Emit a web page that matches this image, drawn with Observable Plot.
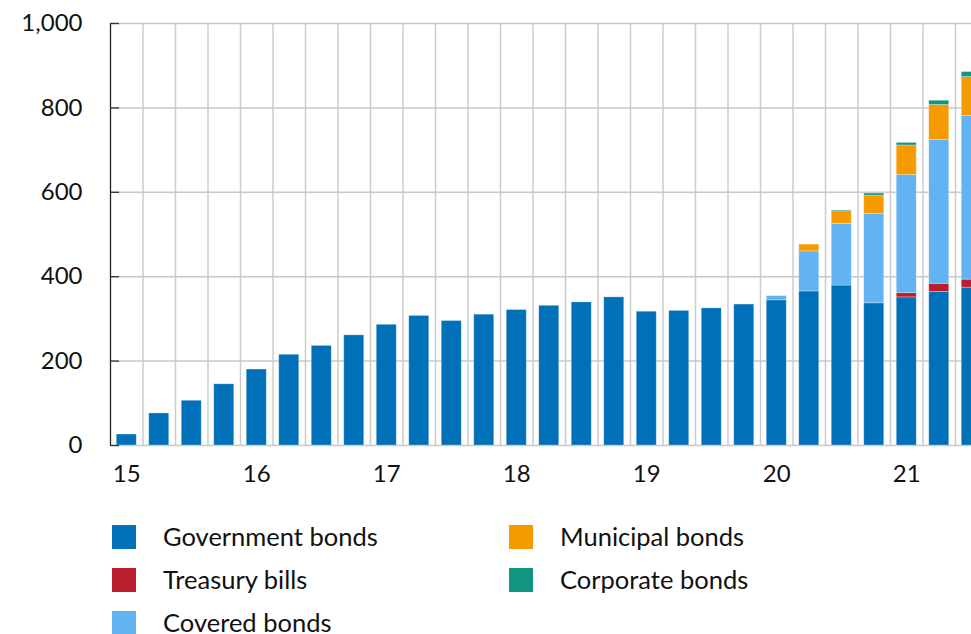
<!DOCTYPE html>
<html>
<head>
<meta charset="utf-8">
<script src="https://cdn.jsdelivr.net/npm/d3@7"></script>
<script src="https://cdn.jsdelivr.net/npm/@observablehq/plot@0.6"></script>
<style>
  html, body { margin: 0; padding: 0; background: #fff; overflow: hidden; }
  #wrap { position: relative; width: 971px; height: 634px; overflow: hidden; font-family: Lato, "Open Sans", sans-serif; color: #111; }
  #chart { position: absolute; left: 0; top: 0; width: 990px; }
  #chart svg { max-width: none !important; }
  #legend { position: absolute; left: 112px; top: 525px; display: grid; grid-template-columns: 397px auto; grid-auto-flow: column; grid-template-rows: repeat(3, 43px); font-size: 25.5px; }
  .item { display: flex; align-items: flex-start; height: 43px; }
  .sw { width: 24px; height: 24px; margin-right: 27px; flex: none; }
  .lab { line-height: 23px; white-space: nowrap; }
</style>
</head>
<body>
<div id="wrap">
  <div id="chart"></div>
  <div id="legend"></div>
</div>
<script>
// Quarters shown (the last one is cut off at the right edge)
const quarters = [
  "2015Q1","2015Q2","2015Q3","2015Q4",
  "2016Q1","2016Q2","2016Q3","2016Q4",
  "2017Q1","2017Q2","2017Q3","2017Q4",
  "2018Q1","2018Q2","2018Q3","2018Q4",
  "2019Q1","2019Q2","2019Q3","2019Q4",
  "2020Q1","2020Q2","2020Q3","2020Q4",
  "2021Q1","2021Q2","2021Q3"
];
const government = [26,76,106,145,180,215,236,261,286,307,295,310,321,331,339,351,317,319,325,334,344,365,379,337,351,364,374];
const treasury   = [0,0,0,0,0,0,0,0,0,0,0,0,0,0,0,0,0,0,0,0,0,0,0,0,10,19,19];
const covered    = [0,0,0,0,0,0,0,0,0,0,0,0,0,0,0,0,0,0,0,0,10,95,146,212,280,341,388];
const municipal  = [0,0,0,0,0,0,0,0,0,0,0,0,0,0,0,0,0,0,0,0,0,16,30,43,70,83,92];
const corporate  = [0,0,0,0,0,0,0,0,0,0,0,0,0,0,0,0,0,0,0,0,0,0,2,5,6,10,12];

const seriesNames = ["Government bonds","Treasury bills","Covered bonds","Municipal bonds","Corporate bonds"];
const seriesColors = ["#0070b8","#ba1e2d","#61b3f2","#f59b00","#10957f"];
const seriesValues = [government, treasury, covered, municipal, corporate];
const yearLabels = {"2015":"15","2016":"16","2017":"17","2018":"18","2019":"19","2020":"20","2021":"21"};
const yTicks = [0,200,400,600,800,1000];

const rows = [];
seriesNames.forEach((name, s) => {
  quarters.forEach((q, i) => {
    rows.push({quarter: q, i0: i, i1: i + 1, series: name, value: seriesValues[s][i]});
  });
});
const q1 = quarters.map((q, i) => ({q, i})).filter(d => d.q.endsWith("Q1"))
  .map(d => ({pos: d.i + 0.5, label: yearLabels[d.q.slice(0, 4)]}));
const bounds = quarters.map((q, i) => i + 1);

const font = "Lato, 'Open Sans', sans-serif";
const chart = Plot.plot({
  width: 990,
  height: 500,
  marginLeft: 110,
  marginRight: 2.5,
  marginTop: 23,
  marginBottom: 55,
  style: {fontFamily: font, fontSize: "24px", color: "#111", background: "transparent", overflow: "visible", maxWidth: "none"},
  x: {type: "linear", domain: [0, quarters.length], axis: null},
  y: {domain: [0, 1000], axis: null},
  color: {domain: seriesNames, range: seriesColors},
  marks: [
    Plot.ruleX(bounds, {x: d => d, y1: 0, y2: 1000, stroke: "#cccccc", strokeWidth: 1.5}),
    Plot.ruleY(yTicks, {y: d => d, stroke: "#c8c8c8", strokeWidth: 1.5}),
    Plot.rectY(rows, {x1: "i0", x2: "i1", y: "value", fill: "series", order: seriesNames,
      insetLeft: 6.25, insetRight: 6.25, stroke: "white", strokeOpacity: 0.35, strokeWidth: 0.8}),
    Plot.ruleX([0], {y1: 0, y2: 1000, stroke: "#222", strokeWidth: 1.3}),
    Plot.axisY({ticks: yTicks, label: null, tickSize: -9, tickPadding: 37, tickFormat: d3.format(","), stroke: "#333", strokeWidth: 1.3, fontSize: 24, fill: "#111"}),
    Plot.text(q1, {x: "pos", frameAnchor: "bottom", dy: 36, text: "label", fontSize: 24, fill: "#111"})
  ]
});
document.getElementById("chart").appendChild(chart);

const legend = document.getElementById("legend");
seriesNames.forEach((name, s) => {
  const it = document.createElement("div");
  it.className = "item";
  const sw = document.createElement("div");
  sw.className = "sw";
  sw.style.background = seriesColors[s];
  const lab = document.createElement("div");
  lab.className = "lab";
  lab.textContent = name;
  it.appendChild(sw); it.appendChild(lab);
  legend.appendChild(it);
});
</script>
</body>
</html>
